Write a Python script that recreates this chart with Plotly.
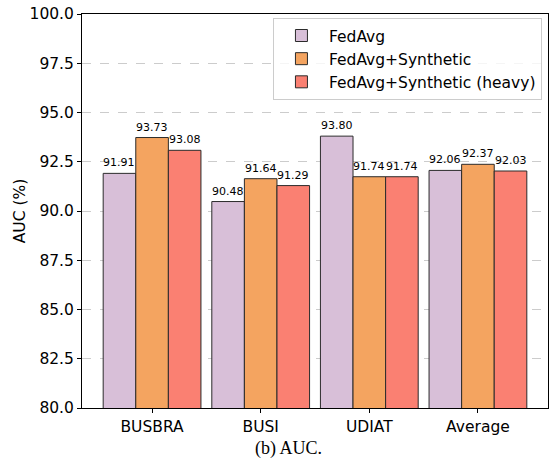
import plotly.graph_objects as go

categories = ["BUSBRA", "BUSI", "UDIAT", "Average"]
series_names = ["FedAvg", "FedAvg+Synthetic", "FedAvg+Synthetic (heavy)"]
fedavg = [91.91, 90.48, 93.80, 92.06]
fedavg_syn = [93.73, 91.64, 91.74, 92.37]
fedavg_syn_heavy = [93.08, 91.29, 91.74, 92.03]
y_ticks = [80.0, 82.5, 85.0, 87.5, 90.0, 92.5, 95.0, 97.5, 100.0]

series_values = [fedavg, fedavg_syn, fedavg_syn_heavy]
colors = ["#D8BFD8", "#F4A460", "#FA8072"]
x_pos = list(range(len(categories)))

FONT = "DejaVu Sans"
fig = go.Figure()
for name, vals, col in zip(series_names, series_values, colors):
    fig.add_trace(go.Bar(
        x=x_pos, y=vals, name=name,
        marker=dict(color=col, line=dict(color="#2b2b2b", width=1)),
    ))

annotations = []
for j, vals in enumerate(series_values):
    for i, v in enumerate(vals):
        annotations.append(dict(
            x=i + (j - 1) * 0.3, y=v, xref="x", yref="y",
            text=f"{v:.2f}", showarrow=False, yanchor="bottom",
            yshift=2, font=dict(family=FONT, size=11, color="black"),
        ))
annotations.append(dict(
    x=0.443, y=0, xref="paper", yref="paper",
    text="(b) AUC.", showarrow=False, yanchor="middle", yshift=-40,
    font=dict(family="Liberation Serif", size=18, color="black"),
))

fig.update_layout(
    width=550, height=460,
    margin=dict(l=82, r=2, t=14, b=52),
    paper_bgcolor="white", plot_bgcolor="white",
    barmode="group", bargap=0.1, bargroupgap=0,
    font=dict(family=FONT, size=15.5, color="black"),
    annotations=annotations,
    legend=dict(
        x=0.987, y=0.99, xanchor="right", yanchor="top",
        bordercolor="#cccccc", borderwidth=1,
        bgcolor="rgba(255,255,255,0.8)", itemwidth=45,
        font=dict(family=FONT, size=15.5, color="black"),
    ),
    xaxis=dict(
        range=[-0.645, 3.645], tickvals=x_pos, ticktext=categories,
        showline=True, linecolor="black", linewidth=1, mirror=True,
        ticks="outside", ticklen=4, tickcolor="black", showgrid=False,
        zeroline=False, tickfont=dict(size=15.5), automargin=False,
        ticklabeloverflow="allow",
    ),
    yaxis=dict(
        range=[80, 100], tickvals=y_ticks,
        ticktext=[f"{t:.1f}" for t in y_ticks],
        showline=True, linecolor="black", linewidth=1, mirror=True,
        ticks="outside", ticklen=4, tickcolor="black",
        showgrid=True, gridcolor="#cccccc", griddash="dash", gridwidth=0.8,
        zeroline=False, tickfont=dict(size=15.5), automargin=False,
        ticklabeloverflow="allow",
        title=dict(text="AUC (%)", font=dict(size=15.5), standoff=0),
    ),
)
# remove the default 8px page margin so the figure fills the window exactly
fig.write_html("out.html", config={"displayModeBar": False},
               post_script="document.body.style.margin='0';")
